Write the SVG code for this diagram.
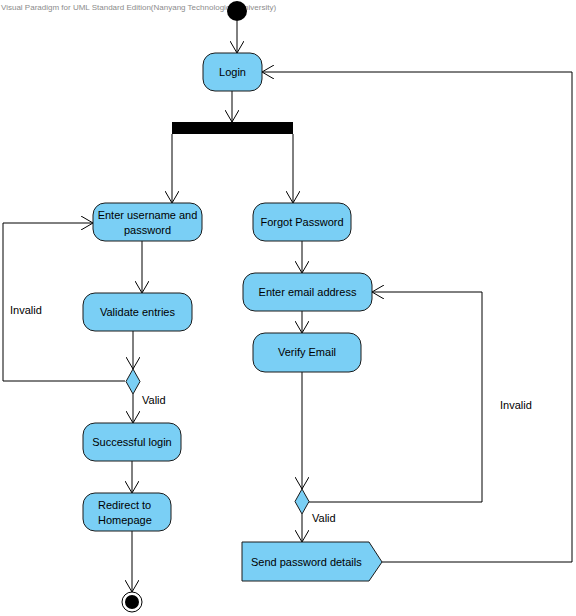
<svg xmlns="http://www.w3.org/2000/svg" width="576" height="616" viewBox="0 0 576 616">
<style>
.act{fill:#7ACFF5;stroke:#1a1a1a;stroke-width:1}
.t{font-family:"Liberation Sans",Arial,sans-serif;font-size:11px;fill:#000}
.lbl{font-family:"Liberation Sans",Arial,sans-serif;font-size:11px;fill:#000}
.wm{font-family:"Liberation Sans",sans-serif;font-size:8px;fill:#8c8c8c}
.c{fill:none;stroke:#000;stroke-width:1}
</style>
<defs>
<marker id="arr" markerUnits="userSpaceOnUse" viewBox="0 0 12 14" refX="12" refY="7" markerWidth="12" markerHeight="14" orient="auto">
<path d="M0,0 L12,7 L0,14" fill="none" stroke="#000" stroke-width="1"/>
</marker>
</defs>
<rect width="576" height="616" fill="#fff"/>
<text class="wm" x="1" y="10">Visual Paradigm for UML Standard Edition(Nanyang Technological University)</text>
<g id="connectors">
<path class="c" d="M237,21 V53" marker-end="url(#arr)"/>
<path class="c" d="M232,91 V122" marker-end="url(#arr)"/>
<path class="c" d="M172,134 V203" marker-end="url(#arr)"/>
<path class="c" d="M293,134 V203" marker-end="url(#arr)"/>
<path class="c" d="M142,241 V293" marker-end="url(#arr)"/>
<path class="c" d="M133,331 V369" marker-end="url(#arr)"/>
<path class="c" d="M125,381 H3 V223 H93" marker-end="url(#arr)"/>
<path class="c" d="M133,394 V423" marker-end="url(#arr)"/>
<path class="c" d="M132,461 V493" marker-end="url(#arr)"/>
<path class="c" d="M132,531 V592" marker-end="url(#arr)"/>
<path class="c" d="M302,241 V273" marker-end="url(#arr)"/>
<path class="c" d="M302,311 V333" marker-end="url(#arr)"/>
<path class="c" d="M302,372 V489" marker-end="url(#arr)"/>
<path class="c" d="M309,502 H482 V292 H372" marker-end="url(#arr)"/>
<path class="c" d="M302,514 V542" marker-end="url(#arr)"/>
<path class="c" d="M382,562 H572 V72 H262" marker-end="url(#arr)"/>
<text class="lbl" x="10" y="314">Invalid</text>
<text class="lbl" x="142" y="404">Valid</text>
<text class="lbl" x="500" y="409">Invalid</text>
<text class="lbl" x="312" y="522">Valid</text>
</g>
<g id="initial"><circle cx="237" cy="11" r="10" fill="#000"/></g>
<g id="login"><rect class="act" x="203" y="53" width="59" height="38" rx="12"/><text class="t" x="232.5" y="76" text-anchor="middle">Login</text></g>
<g id="fork"><rect x="172" y="122" width="121" height="12" fill="#000"/></g>
<g id="enter-credentials"><rect class="act" x="93" y="203" width="109" height="38" rx="12"/><text class="t" x="147.5" y="219" text-anchor="middle">Enter username and</text><text class="t" x="147.5" y="234" text-anchor="middle">password</text></g>
<g id="validate"><rect class="act" x="83" y="293" width="109" height="38" rx="12"/><text class="t" x="137.5" y="316" text-anchor="middle">Validate entries</text></g>
<g id="decision1"><polygon class="act" points="133,369 140,381.5 133,394 126,381.5"/></g>
<g id="success"><rect class="act" x="83" y="423" width="98" height="38" rx="12"/><text class="t" x="132" y="446" text-anchor="middle">Successful login</text></g>
<g id="redirect"><rect class="act" x="83" y="493" width="88" height="38" rx="12"/><text class="t" x="98" y="509">Redirect to</text><text class="t" x="98" y="524">Homepage</text></g>
<g id="final"><circle cx="132" cy="602" r="10" fill="#fff" stroke="#000" stroke-width="1"/><circle cx="132" cy="602" r="7" fill="#000"/></g>
<g id="forgot"><rect class="act" x="253" y="203" width="98" height="38" rx="12"/><text class="t" x="302" y="226" text-anchor="middle">Forgot Password</text></g>
<g id="enter-email"><rect class="act" x="243" y="273" width="129" height="38" rx="12"/><text class="t" x="307.5" y="296" text-anchor="middle">Enter email address</text></g>
<g id="verify"><rect class="act" x="253" y="333" width="108" height="39" rx="12"/><text class="t" x="307" y="356" text-anchor="middle">Verify Email</text></g>
<g id="decision2"><polygon class="act" points="302,489 309,501.5 302,514 295,501.5"/></g>
<g id="send"><polygon class="act" points="242,542 369,542 382,562 369,581 242,581"/><text class="t" x="251" y="566">Send password details</text></g>
</svg>
